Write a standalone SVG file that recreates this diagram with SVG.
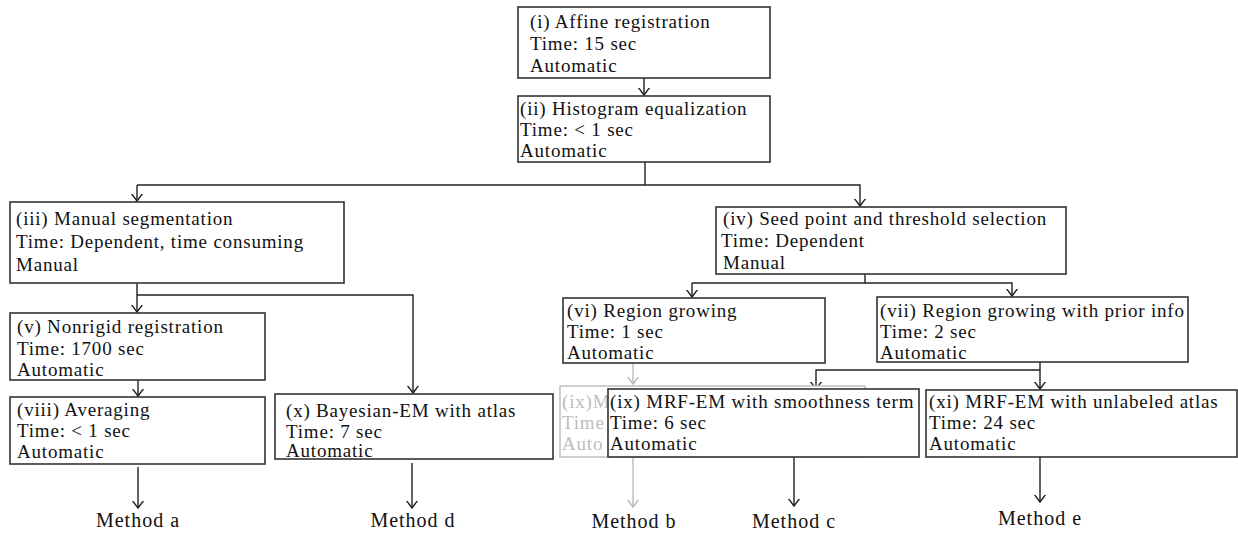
<svg xmlns="http://www.w3.org/2000/svg" width="1238" height="535" viewBox="0 0 1238 535">
<defs>
<marker id="ah" markerWidth="14" markerHeight="14" refX="7" refY="7" orient="auto" markerUnits="userSpaceOnUse" viewBox="0 0 14 14">
<path d="M-1,1 L7,7 L-1,13" fill="none" stroke="#222" stroke-width="1.4"/>
</marker>
<marker id="ahg" markerWidth="14" markerHeight="14" refX="7" refY="7" orient="auto" markerUnits="userSpaceOnUse" viewBox="0 0 14 14">
<path d="M-1,1 L7,7 L-1,13" fill="none" stroke="#bbb" stroke-width="1.4"/>
</marker>
</defs>
<style>
.box{fill:#fff;stroke:#333;stroke-width:1.6}
.gbox{fill:#fff;stroke:#c4c4c4;stroke-width:1.6}
text{font-family:"Liberation Serif","Times New Roman",serif;font-size:19px;letter-spacing:0.8px;fill:#111}
.g{fill:#bdbdbd}
.m{text-anchor:middle;font-size:20px;letter-spacing:1px}
.c{fill:none;stroke:#222;stroke-width:1.4}
.cg{fill:none;stroke:#bbb;stroke-width:1.4}
</style>
<rect width="1238" height="535" fill="#fff"/>
<g id="connectors">
<line class="c" x1="644" y1="78" x2="644" y2="95" marker-end="url(#ah)"/>
<polyline class="c" points="645,162 645,185"/>
<polyline class="c" points="137,185 860,185 860,206" marker-end="url(#ah)"/>
<line class="c" x1="137" y1="185" x2="137" y2="201" marker-end="url(#ah)"/>
<polyline class="c" points="137,283 137,295"/>
<polyline class="c" points="137,295 413,295 413,393" marker-end="url(#ah)"/>
<line class="c" x1="137" y1="295" x2="137" y2="312" marker-end="url(#ah)"/>
<line class="c" x1="138" y1="380" x2="138" y2="396" marker-end="url(#ah)"/>
<line class="c" x1="138" y1="467" x2="138" y2="508" marker-end="url(#ah)"/>
<line class="c" x1="412" y1="463" x2="412" y2="508" marker-end="url(#ah)"/>
<polyline class="c" points="865,274 865,283"/>
<polyline class="c" points="692,283 1012,283 1012,296" marker-end="url(#ah)"/>
<line class="c" x1="692" y1="283" x2="692" y2="297" marker-end="url(#ah)"/>
<line class="c" x1="1040" y1="362" x2="1040" y2="389" marker-end="url(#ah)"/>
<polyline class="c" points="1040,370 816,370 816,389" marker-end="url(#ah)"/>
<line class="c" x1="794" y1="457" x2="794" y2="506" marker-end="url(#ah)"/>
<line class="c" x1="1040" y1="457" x2="1040" y2="502" marker-end="url(#ah)"/>
<line class="cg" x1="633" y1="363" x2="633" y2="384" marker-end="url(#ahg)"/>
<line class="cg" x1="633" y1="457" x2="633" y2="507" marker-end="url(#ahg)"/>
</g>
<g id="n1"><rect class="box" x="518" y="7" width="252" height="71"/>
<text x="530" y="28">(i) Affine registration<tspan x="530" y="50">Time: 15 sec</tspan><tspan x="530" y="72">Automatic</tspan></text></g>
<g id="n2"><rect class="box" x="518" y="96" width="252" height="66"/>
<text x="520" y="115">(ii) Histogram equalization<tspan x="520" y="136">Time: &lt; 1 sec</tspan><tspan x="520" y="157">Automatic</tspan></text></g>
<g id="n3"><rect class="box" x="10" y="202" width="334" height="81"/>
<text x="16" y="225">(iii) Manual segmentation<tspan x="16" y="248">Time: Dependent, time consuming</tspan><tspan x="16" y="271">Manual</tspan></text></g>
<g id="n4"><rect class="box" x="716" y="207" width="350" height="67"/>
<text x="723" y="225">(iv) Seed point and threshold selection<tspan x="721" y="247">Time: Dependent</tspan><tspan x="723" y="269">Manual</tspan></text></g>
<g id="n5"><rect class="box" x="10" y="313" width="255" height="67"/>
<text x="17" y="333">(v) Nonrigid registration<tspan x="17" y="355">Time: 1700 sec</tspan><tspan x="17" y="376">Automatic</tspan></text></g>
<g id="n6"><rect class="box" x="563" y="298" width="262" height="65"/>
<text x="567" y="317">(vi) Region growing<tspan x="567" y="338">Time: 1 sec</tspan><tspan x="567" y="359">Automatic</tspan></text></g>
<g id="n7"><rect class="box" x="877" y="297" width="311" height="65"/>
<text x="880" y="317">(vii) Region growing with prior info<tspan x="880" y="338">Time: 2 sec</tspan><tspan x="880" y="359">Automatic</tspan></text></g>
<g id="n8"><rect class="box" x="10" y="397" width="255" height="67"/>
<text x="17" y="416">(viii) Averaging<tspan x="17" y="437">Time: &lt; 1 sec</tspan><tspan x="17" y="458">Automatic</tspan></text></g>
<g id="n10"><rect class="box" x="275" y="394" width="278" height="65"/>
<text x="286" y="417">(x) Bayesian-EM with atlas<tspan x="286" y="438">Time: 7 sec</tspan><tspan x="286" y="457">Automatic</tspan></text></g>
<g id="n9ghost"><rect class="gbox" x="560" y="386" width="305" height="71"/>
<text class="g" x="562" y="408">(ix)M<tspan x="562" y="429">Time</tspan><tspan x="562" y="450">Auto</tspan></text></g>
<g id="n9"><rect class="box" x="608" y="389" width="311" height="68"/>
<text x="610" y="408">(ix) MRF-EM with smoothness term<tspan x="610" y="429">Time: 6 sec</tspan><tspan x="610" y="450">Automatic</tspan></text></g>
<g id="n11"><rect class="box" x="926" y="390" width="311" height="67"/>
<text x="929" y="408">(xi) MRF-EM with unlabeled atlas<tspan x="929" y="429">Time: 24 sec</tspan><tspan x="929" y="450">Automatic</tspan></text></g>
<g id="labels">
<text class="m" x="138" y="527">Method a</text>
<text class="m" x="413" y="527">Method d</text>
<text class="m" x="634" y="528">Method b</text>
<text class="m" x="794" y="528">Method c</text>
<text class="m" x="1040" y="525">Method e</text>
</g>
</svg>
